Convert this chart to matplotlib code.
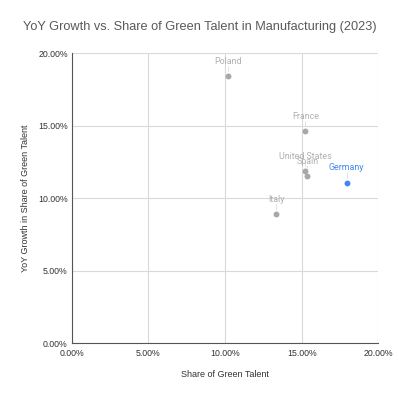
import matplotlib
matplotlib.use("Agg")
import matplotlib.pyplot as plt
from matplotlib.ticker import PercentFormatter

plt.rcParams["font.family"] = ["Liberation Sans", "DejaVu Sans"]

countries = ["Poland", "France", "United States", "Spain", "Germany", "Italy"]
share = [10.2, 15.24, 15.24, 15.37, 17.94, 13.33]
growth = [18.41, 14.62, 11.88, 11.54, 11.08, 8.94]
highlight = "Germany"

fig = plt.figure(figsize=(3.99, 3.97), dpi=100)
ax = fig.add_axes([0.180, 0.135, 0.768, 0.731])

for c, x, y in zip(countries, share, growth):
    col = "#4285f4" if c == highlight else "#a8a8a8"
    lab = "#4285f4" if c == highlight else "#b0b0b0"
    ax.scatter(x, y, s=18, color=col, zorder=3, linewidths=0)
    ax.plot([x, x], [y + 0.35, y + 0.7], color="#dddddd", lw=0.6, zorder=2)
    ax.text(x, y + 0.7, c, ha="center", va="bottom", fontsize=6.4,
            color=lab, family=["Roboto", "DejaVu Sans"])

ax.set_xlim(0, 20)
ax.set_ylim(0, 20)
ticks = [0, 5, 10, 15, 20]
ax.set_xticks(ticks)
ax.set_yticks(ticks)
ax.xaxis.set_major_formatter(PercentFormatter(decimals=2))
ax.yaxis.set_major_formatter(PercentFormatter(decimals=2))
ax.grid(True, color="#d9d9d9", lw=0.8)
ax.set_axisbelow(True)
for s in ["top", "right"]:
    ax.spines[s].set_visible(False)
ax.spines["left"].set_color("#555555")
ax.spines["bottom"].set_color("#555555")
ax.spines["left"].set_linewidth(0.8)
ax.spines["bottom"].set_linewidth(0.8)
ax.tick_params(axis="y", length=0, labelsize=6.3, colors="#333333", pad=3)
ax.tick_params(axis="x", length=0, labelsize=6.3, colors="#333333", pad=4)
ax.set_xlabel("Share of Green Talent", fontsize=6.5, color="#333333", labelpad=9)
ax.set_ylabel("YoY Growth in Share of Green Talent", fontsize=6.5, color="#333333", labelpad=6)

fig.text(0.5, 0.932, "YoY Growth vs. Share of Green Talent in Manufacturing (2023)",
         ha="center", va="center", fontsize=9.2, color="#595959")

fig.savefig("out.png", dpi=100, facecolor="white")
